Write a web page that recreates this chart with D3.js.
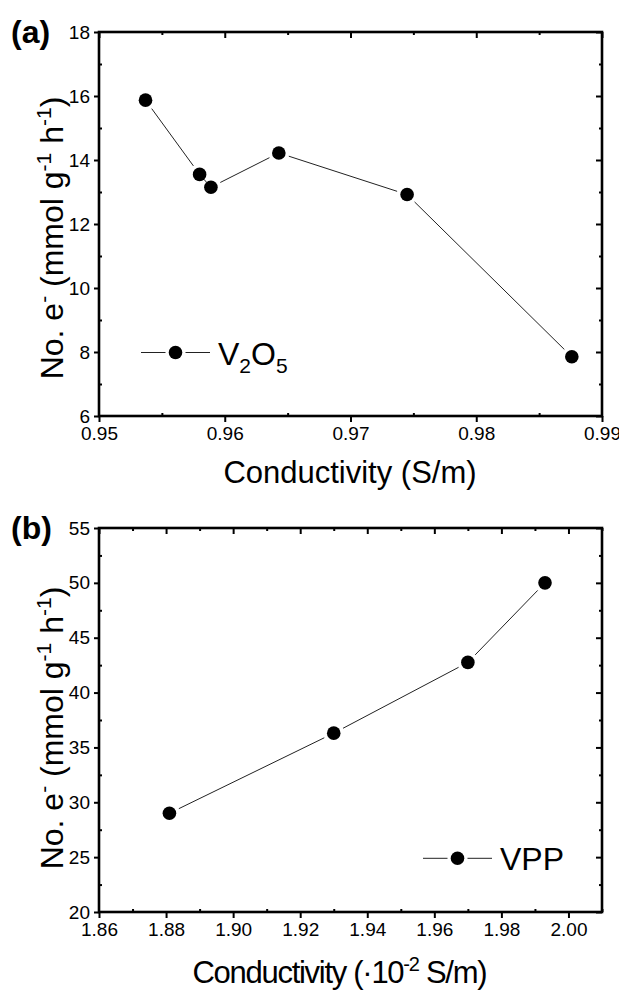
<!DOCTYPE html>
<html>
<head>
<meta charset="utf-8">
<script src="https://cdn.jsdelivr.net/npm/d3@7"></script>
<style>
  html, body { margin: 0; padding: 0; background: #fff; }
  svg { display: block; }
  text { font-family: "Liberation Sans", Arial, sans-serif; fill: #000; }
</style>
</head>
<body>
<svg id="chart" width="619" height="990"></svg>
<script>
// Panel (a): V2O5
const condA = [0.9537, 0.9580, 0.9589, 0.9643, 0.9745, 0.9876];
const rateA = [15.87, 13.55, 13.15, 14.22, 12.92, 7.85];
const xTicksA = [0.95, 0.96, 0.97, 0.98, 0.99];
const xMinorA = [0.955, 0.965, 0.975, 0.985];
const yTicksA = [6, 8, 10, 12, 14, 16, 18];
const yMinorA = [7, 9, 11, 13, 15, 17];

// Panel (b): VPP
const condB = [1.881, 1.930, 1.970, 1.993];
const rateB = [29.0, 36.3, 42.75, 50.0];
const xTicksB = [1.86, 1.88, 1.90, 1.92, 1.94, 1.96, 1.98, 2.00];
const xMinorB = [1.87, 1.89, 1.91, 1.93, 1.95, 1.97, 1.99, 2.01];
const yTicksB = [20, 25, 30, 35, 40, 45, 50, 55];
const yMinorB = [22.5, 27.5, 32.5, 37.5, 42.5, 47.5, 52.5];

const svg = d3.select("#chart");
const FONT = '"Liberation Sans", Arial, sans-serif';

function panel(cfg) {
  const { top, bottom, left, right } = cfg;
  const x = d3.scaleLinear().domain(cfg.xDomain).range([left, right]);
  const y = d3.scaleLinear().domain(cfg.yDomain).range([bottom, top]);
  const g = svg.append("g");

  const styleAxis = sel => {
    sel.attr("font-size", null).attr("font-family", null);
    sel.select(".domain").remove();
    sel.selectAll(".tick line").attr("stroke", "#000").attr("stroke-width", 2);
    sel.selectAll(".tick text")
      .style("font-family", FONT).style("font-size", "19px").attr("fill", "#000");
  };

  // bottom: major ticks outward, minor inward
  g.append("g").attr("transform", `translate(0,${bottom})`)
    .call(d3.axisBottom(x).tickValues(cfg.xTicks).tickSize(6).tickSizeOuter(0)
      .tickPadding(5).tickFormat(cfg.xFmt))
    .call(styleAxis);
  g.append("g").attr("transform", `translate(0,${bottom})`)
    .call(d3.axisBottom(x).tickValues(cfg.xMinor).tickSize(-3).tickSizeOuter(0).tickFormat(""))
    .call(styleAxis);
  // top: all ticks inward
  g.append("g").attr("transform", `translate(0,${top})`)
    .call(d3.axisTop(x).tickValues(cfg.xTicks).tickSize(-6).tickSizeOuter(0).tickFormat(""))
    .call(styleAxis);
  g.append("g").attr("transform", `translate(0,${top})`)
    .call(d3.axisTop(x).tickValues(cfg.xMinor).tickSize(-3).tickSizeOuter(0).tickFormat(""))
    .call(styleAxis);
  // left: major outward, minor inward
  g.append("g").attr("transform", `translate(${left},0)`)
    .call(d3.axisLeft(y).tickValues(cfg.yTicks).tickSize(5).tickSizeOuter(0)
      .tickPadding(4).tickFormat(d3.format("d")))
    .call(styleAxis);
  g.append("g").attr("transform", `translate(${left},0)`)
    .call(d3.axisLeft(y).tickValues(cfg.yMinor).tickSize(-3).tickSizeOuter(0).tickFormat(""))
    .call(styleAxis);
  // right: all ticks inward
  g.append("g").attr("transform", `translate(${right},0)`)
    .call(d3.axisRight(y).tickValues(cfg.yTicks).tickSize(-6).tickSizeOuter(0).tickFormat(""))
    .call(styleAxis);
  g.append("g").attr("transform", `translate(${right},0)`)
    .call(d3.axisRight(y).tickValues(cfg.yMinor).tickSize(-3).tickSizeOuter(0).tickFormat(""))
    .call(styleAxis);

  // frame
  g.append("rect")
    .attr("x", left).attr("y", top)
    .attr("width", right - left).attr("height", bottom - top)
    .attr("fill", "none").attr("stroke", "#000").attr("stroke-width", 2.6);

  // connecting line with a small gap around each symbol
  const pts = cfg.xs.map((v, i) => [x(v), y(cfg.ys[i])]);
  const gap = 10.5;
  const segs = d3.pairs(pts).map(([a, b]) => {
    const dx = b[0] - a[0], dy = b[1] - a[1];
    const len = Math.hypot(dx, dy);
    const ux = dx / len, uy = dy / len;
    return [[a[0] + ux * gap, a[1] + uy * gap], [b[0] - ux * gap, b[1] - uy * gap]];
  });
  g.append("g").selectAll("line").data(segs).join("line")
    .attr("x1", d => d[0][0]).attr("y1", d => d[0][1])
    .attr("x2", d => d[1][0]).attr("y2", d => d[1][1])
    .attr("stroke", "#222").attr("stroke-width", 1);

  g.append("g").selectAll("circle").data(pts).join("circle")
    .attr("cx", d => d[0]).attr("cy", d => d[1]).attr("r", 6.8).attr("fill", "#000");

  // legend
  const lg = g.append("g").attr("transform", `translate(${cfg.legend[0]},${cfg.legend[1]})`);
  lg.append("line").attr("x1", 0).attr("x2", 24.5).attr("y1", 0).attr("y2", 0)
    .attr("stroke", "#222").attr("stroke-width", 1);
  lg.append("line").attr("x1", 44.5).attr("x2", 69).attr("y1", 0).attr("y2", 0)
    .attr("stroke", "#222").attr("stroke-width", 1);
  lg.append("circle").attr("cx", 34.5).attr("cy", 0).attr("r", 6.8).attr("fill", "#000");
  const lt = lg.append("text").attr("x", 77).attr("y", 12).style("font-size", "32px");
  cfg.legendText(lt);

  // panel label
  svg.append("text").attr("x", 11).attr("y", top + 11)
    .style("font-size", "32px").style("font-weight", "bold").text(cfg.tag);

  // x title
  const xt = svg.append("text").attr("x", cfg.xTitleX).attr("y", cfg.xTitleY)
    .attr("text-anchor", "middle").style("font-size", "31px");
  cfg.xTitle(xt);

  // y title
  const yt = svg.append("text")
    .attr("transform", `translate(63,${cfg.yTitleC}) rotate(-90)`)
    .attr("text-anchor", "middle").style("font-size", "32px");
  yt.append("tspan").text("No. e");
  yt.append("tspan").attr("dy", -12).style("font-size", "21px").text("-");
  yt.append("tspan").attr("dy", 12).text(" (mmol g");
  yt.append("tspan").attr("dy", -12).style("font-size", "21px").text("-1");
  yt.append("tspan").attr("dy", 12).text(" h");
  yt.append("tspan").attr("dy", -12).style("font-size", "21px").text("-1");
  yt.append("tspan").attr("dy", 12).text(")");
}

panel({
  top: 32, bottom: 416, left: 99, right: 602,
  xDomain: [0.95, 0.99], yDomain: [6, 18],
  xTicks: xTicksA, xMinor: xMinorA, yTicks: yTicksA, yMinor: yMinorA,
  xFmt: d3.format(".2f"),
  xs: condA, ys: rateA,
  legend: [141, 352.5],
  legendText: t => {
    t.append("tspan").text("V");
    t.append("tspan").attr("dy", 8).style("font-size", "21px").text("2");
    t.append("tspan").attr("dy", -8).text("O");
    t.append("tspan").attr("dy", 8).style("font-size", "21px").text("5");
  },
  tag: "(a)",
  xTitleX: 350,
  xTitleY: 483,
  xTitle: t => t.text("Conductivity (S/m)"),
  yTitleC: 238
});

panel({
  top: 528, bottom: 912, left: 99, right: 602,
  xDomain: [1.86, 2.01], yDomain: [20, 55],
  xTicks: xTicksB, xMinor: xMinorB, yTicks: yTicksB, yMinor: yMinorB,
  xFmt: d3.format(".2f"),
  xs: condB, ys: rateB,
  legend: [423, 858.3],
  legendText: t => t.text("VPP"),
  tag: "(b)",
  xTitleX: 340,
  xTitleY: 983,
  xTitle: t => {
    t.attr("textLength", 295).attr("lengthAdjust", "spacing");
    t.append("tspan").text("Conductivity (\u00b710");
    t.append("tspan").attr("dy", -12).style("font-size", "20px").text("-2");
    t.append("tspan").attr("dy", 12).text(" S/m)");
  },
  yTitleC: 728
});
</script>
</body>
</html>
